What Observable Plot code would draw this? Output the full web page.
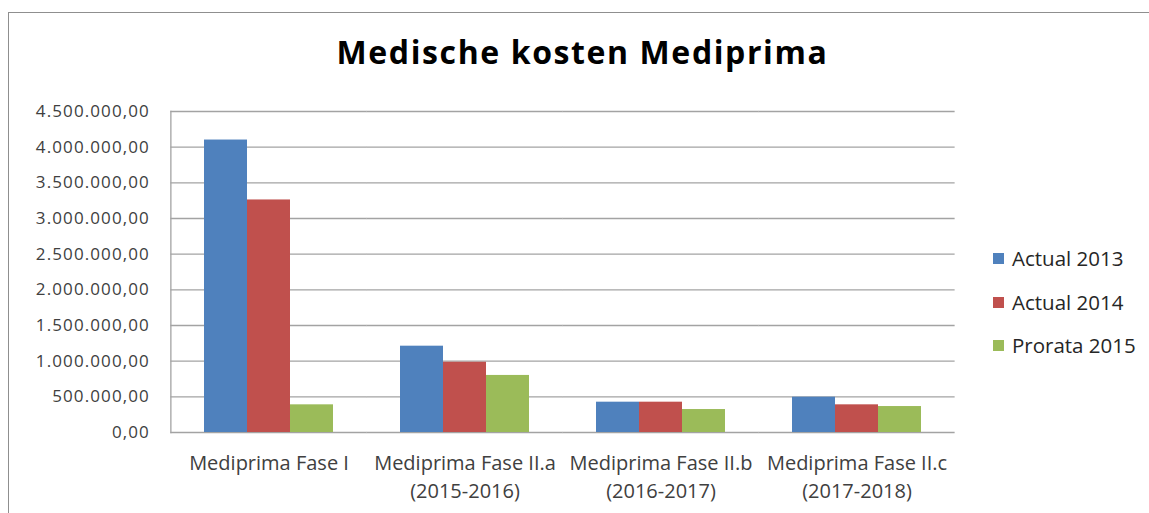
<!DOCTYPE html>
<html><head><meta charset="utf-8">
<script src="https://cdn.jsdelivr.net/npm/d3@7"></script>
<script src="https://cdn.jsdelivr.net/npm/@observablehq/plot@0.6"></script>
<style>
body{margin:0;background:#fff;}
#wrap{position:relative;width:1149px;height:513px;overflow:hidden;background:#fff;}
#border{position:absolute;left:8px;top:12px;width:1300px;height:700px;border-left:1.5px solid #8f8f8f;border-top:1.5px solid #8f8f8f;}
#chart{position:absolute;left:0;top:0;}
#title{position:absolute;left:0;top:36px;width:1165px;text-align:center;font-family:"Open Sans",sans-serif;font-weight:bold;font-size:32px;line-height:32px;color:#000;letter-spacing:1.6px;}
#legend{position:absolute;left:993px;top:0;font-family:"Open Sans",sans-serif;font-size:20.5px;color:#262626;}
.item{position:absolute;left:0;white-space:nowrap;display:flex;align-items:center;height:30px;}
.sw{width:11px;height:11px;margin-right:8px;}
</style></head>
<body>
<div id="wrap">
<div id="border"></div>
<div id="chart"></div>
<div id="title"></div>
<div id="legend"></div>
</div>
<script>
const title = "Medische kosten Mediprima";
const categories = ["Mediprima Fase I", "Mediprima Fase II.a\n(2015-2016)", "Mediprima Fase II.b\n(2016-2017)", "Mediprima Fase II.c\n(2017-2018)"];
const series = ["Actual 2013", "Actual 2014", "Prorata 2015"];
const actual2013 = [4100000, 1210000, 425000, 495000];
const actual2014 = [3260000, 985000, 425000, 388000];
const prorata2015 = [388000, 800000, 322000, 364000];
const colors = ["#4F81BD", "#C0504D", "#9BBB59"];
const yTicks = [0, 500000, 1000000, 1500000, 2000000, 2500000, 3000000, 3500000, 4000000, 4500000];

const values = [actual2013, actual2014, prorata2015];
const data = [];
categories.forEach((c, i) => series.forEach((s, j) => data.push({category: c, series: s, value: values[j][i]})));

const nl = d3.formatLocale({decimal: ",", thousands: ".", grouping: [3], currency: ["€", ""]});
const fmt = nl.format(",.2f");

document.getElementById("title").textContent = title;

const W = 1149, H = 513, mL = 170, mR = 194, mT = 111, mB = 81;
const padInner = 0.3325, padOuter = padInner / 2;
const step = (W - mL - mR) / categories.length;
const half = step * padInner / 2;

const plot = Plot.plot({
  width: W,
  height: H,
  marginLeft: mL,
  marginRight: mR,
  marginTop: mT,
  marginBottom: mB,
  style: {background: "transparent", fontFamily: "'Open Sans', sans-serif", fontSize: "17px", color: "#404040", overflow: "visible"},
  fx: {domain: categories, paddingInner: padInner, paddingOuter: padOuter, label: null},
  x: {domain: series, padding: 0, axis: null},
  y: {domain: [0, 4500000], label: null},
  color: {domain: series, range: colors},
  marks: [
    Plot.gridY(yTicks, {stroke: "#a3a3a3", strokeOpacity: 1, strokeWidth: 1.3, insetLeft: -half, insetRight: -half}),
    Plot.frame({anchor: "left", facet: "super", insetLeft: -half, stroke: "#a3a3a3", strokeOpacity: 1, strokeWidth: 1.3}),
    Plot.barY(data, {fx: "category", x: "series", y: "value", fill: "series"}),
    Plot.axisY(yTicks, {tickSize: 0, tickPadding: 21 + half, tickFormat: fmt, label: null, fontSize: 17, fontFamily: "'Open Sans', sans-serif", fill: "#404040"}),
    Plot.axisFx({anchor: "bottom", tickSize: 0, tickPadding: 17, label: null, fontSize: 20, fontFamily: "'Open Sans', sans-serif", lineHeight: 1.42, fill: "#404040"})
  ]
});
document.getElementById("chart").appendChild(plot);
plot.querySelectorAll("text").forEach(t => {
  if (/^[\d.]+,\d\d$/.test(t.textContent.trim())) t.style.letterSpacing = "1.1px";
});

const leg = document.getElementById("legend");
const rowCenters = [258, 302, 345];
series.forEach((s, i) => {
  const it = document.createElement("div");
  it.className = "item";
  it.style.top = (rowCenters[i] - 15) + "px";
  const sw = document.createElement("span");
  sw.className = "sw";
  sw.style.background = colors[i];
  const tx = document.createElement("span");
  tx.textContent = s;
  it.appendChild(sw); it.appendChild(tx);
  leg.appendChild(it);
});
</script>
</body></html>
